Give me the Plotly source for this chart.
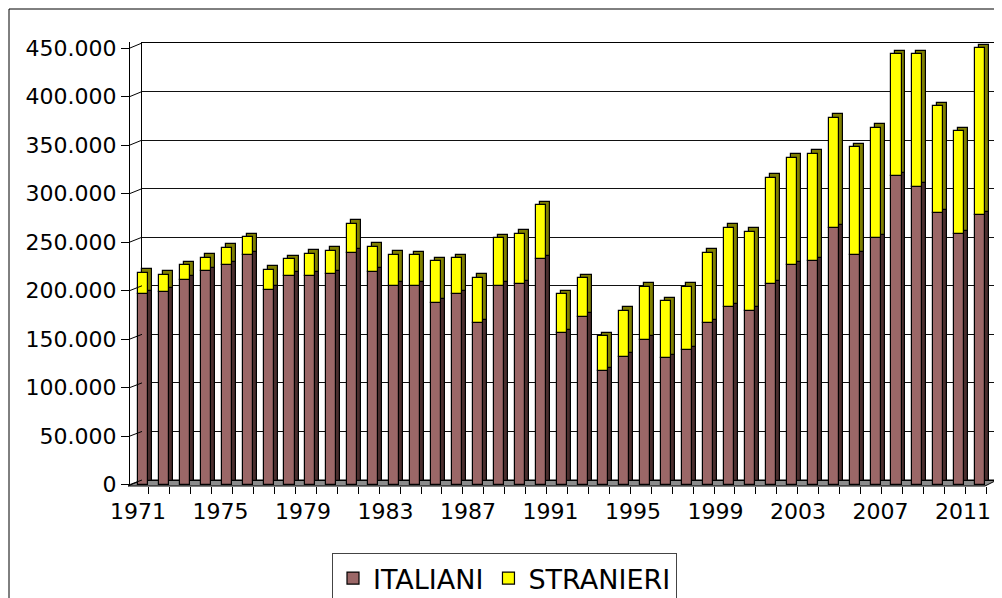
import plotly.graph_objects as go

# ---- data ----
years = list(range(1971, 2012))
italiani = [196000, 198500, 211000, 220000, 226000, 236600, 201000, 215000, 215000, 217000,
            239000, 219500, 204700, 205000, 187600, 196000, 166000, 204700, 206500, 232000,
            155700, 172800, 117000, 131700, 149000, 130000, 138600, 166000, 183000, 179000,
            206500, 226000, 230000, 264000, 236600, 253800, 318000, 307000, 279500, 258000,
            277500]
stranieri = [22400, 17500, 15000, 14000, 18000, 18400, 20500, 17000, 23000, 24000,
             30000, 25500, 32000, 31600, 42400, 37000, 47000, 49000, 52100, 56000,
             40300, 39800, 36000, 47300, 55000, 59000, 65400, 73000, 81700, 81600,
             109500, 111000, 111000, 114000, 111100, 113800, 125700, 136700, 110500, 106000,
             172500]
label_years = [1971, 1975, 1979, 1983, 1987, 1991, 1995, 1999, 2003, 2007, 2011]
y_ticks = list(range(0, 450001, 50000))
series_names = ["ITALIANI", "STRANIERI"]

# ---- styling ----
W, H = 1002, 598
OFF = 8             # page body margin
FONT = "DejaVu Sans"
C_IT, C_IT_SIDE = "#9B6767", "#4A2E2E"
C_ST, C_ST_SIDE = "#FFFF00", "#808000"
DEPTH_Y = 3600      # fake 3D depth (value units)
DEPTH_X = 0.19      # fake 3D depth (year units)
BAR_W = 0.48


def px(x):
    return (x - OFF) / W


def py(y):
    return 1 - (y - OFF) / H


fig = go.Figure()

# empty traces so every axis pair is created
fig.add_trace(go.Scatter(x=[], y=[], xaxis="x", yaxis="y", showlegend=False, hoverinfo="skip"))
fig.add_trace(go.Scatter(x=[], y=[], xaxis="x3", yaxis="y2", showlegend=False, hoverinfo="skip"))
fig.add_trace(go.Scatter(x=[], y=[], xaxis="x4", yaxis="y2", showlegend=False, hoverinfo="skip"))

line = dict(color="black", width=1.2)
x_back = [y + DEPTH_X for y in years]
# side / top faces (behind)
fig.add_trace(go.Bar(x=x_back, y=italiani, base=[DEPTH_Y] * len(years), width=BAR_W,
                     marker=dict(color=C_IT_SIDE, line=line), xaxis="x2", yaxis="y2",
                     showlegend=False, hoverinfo="skip"))
fig.add_trace(go.Bar(x=x_back, y=stranieri, base=[v + DEPTH_Y for v in italiani], width=BAR_W,
                     marker=dict(color=C_ST_SIDE, line=line), xaxis="x2", yaxis="y2",
                     showlegend=False, hoverinfo="skip"))
# front faces
fig.add_trace(go.Bar(x=years, y=italiani, base=[0] * len(years), width=BAR_W, name=series_names[0],
                     marker=dict(color=C_IT, line=line), xaxis="x2", yaxis="y2"))
fig.add_trace(go.Bar(x=years, y=stranieri, base=italiani, width=BAR_W, name=series_names[1],
                     marker=dict(color=C_ST, line=line), xaxis="x2", yaxis="y2"))

shapes = []
# outer chart border
shapes.append(dict(type="rect", xref="paper", yref="paper", x0=px(9), x1=px(1030), y0=py(9), y1=py(640),
                   line=dict(color="black", width=1), layer="below"))
# floor
shapes.append(dict(type="path", xref="paper", yref="paper",
                   path=f"M {px(128)},{py(486)} L {px(142)},{py(480)} L {px(997)},{py(480)} L {px(985)},{py(486)} Z",
                   fillcolor="#8C8C8C", line=dict(color="black", width=1), layer="below"))
# left side-wall diagonals from front ticks to back-wall gridlines
for v in y_ticks:
    yf = 484.5 - v * 0.000970
    yb = 480 - v * (437 / 450000)
    shapes.append(dict(type="line", xref="paper", yref="paper", x0=px(130), y0=py(yf), x1=px(142), y1=py(yb),
                       line=dict(color="black", width=1)))

fig.update_layout(
    width=W, height=H,
    margin=dict(l=0, r=0, t=0, b=0, autoexpand=False),
    paper_bgcolor="white", plot_bgcolor="rgba(0,0,0,0)",
    barmode="overlay", bargap=0,
    separators=",.",
    font=dict(family=FONT, color="black", size=22),
    showlegend=True,
    legend=dict(orientation="h", x=px(332), y=py(553), xanchor="left", yanchor="top",
                bordercolor="#444", borderwidth=1, bgcolor="white",
                font=dict(size=27, family=FONT), traceorder="normal"),
    shapes=shapes,
    # back wall
    xaxis=dict(domain=[px(142), px(997)], anchor="y", range=[0, 1], showgrid=False, zeroline=False,
               showticklabels=False, ticks="", showline=True, mirror=True, linecolor="black", linewidth=1),
    yaxis=dict(domain=[py(480), py(43)], anchor="x", range=[0, 450000], tickvals=y_ticks, showgrid=True,
               gridcolor="#111", gridwidth=1, zeroline=False, showticklabels=False, ticks="",
               showline=True, mirror=True, linecolor="black", linewidth=1),
    # bars axis
    xaxis2=dict(domain=[px(130), px(997)], anchor="y2", range=[1970.379, 2011.803], visible=False),
    yaxis2=dict(domain=[py(486), py(42)], anchor="x2", range=[-1546, 456186], tickvals=y_ticks,
                tickformat=",d", ticks="outside", ticklen=8, tickcolor="black", tickwidth=1,
                showline=True, linecolor="black", linewidth=1, showgrid=False, zeroline=False,
                tickfont=dict(size=22)),
    # front category labels
    xaxis3=dict(overlaying="x2", anchor="y2", side="bottom", range=[1970.612, 2012.648],
                tickvals=label_years, ticktext=[str(y) for y in label_years], ticks="",
                ticklabelstandoff=10, ticklabeloverflow="allow",
                showline=False, showgrid=False, zeroline=False, tickfont=dict(size=22)),
    # front category tick marks
    xaxis4=dict(overlaying="x2", anchor="y2", side="bottom", range=[1970.596, 2012.02],
                tickvals=[y + 0.5 for y in range(1970, 2012)], ticks="outside", ticklen=7,
                tickcolor="black", showticklabels=False,
                showline=False, showgrid=False, zeroline=False),
)

fig.write_html("out.html")
